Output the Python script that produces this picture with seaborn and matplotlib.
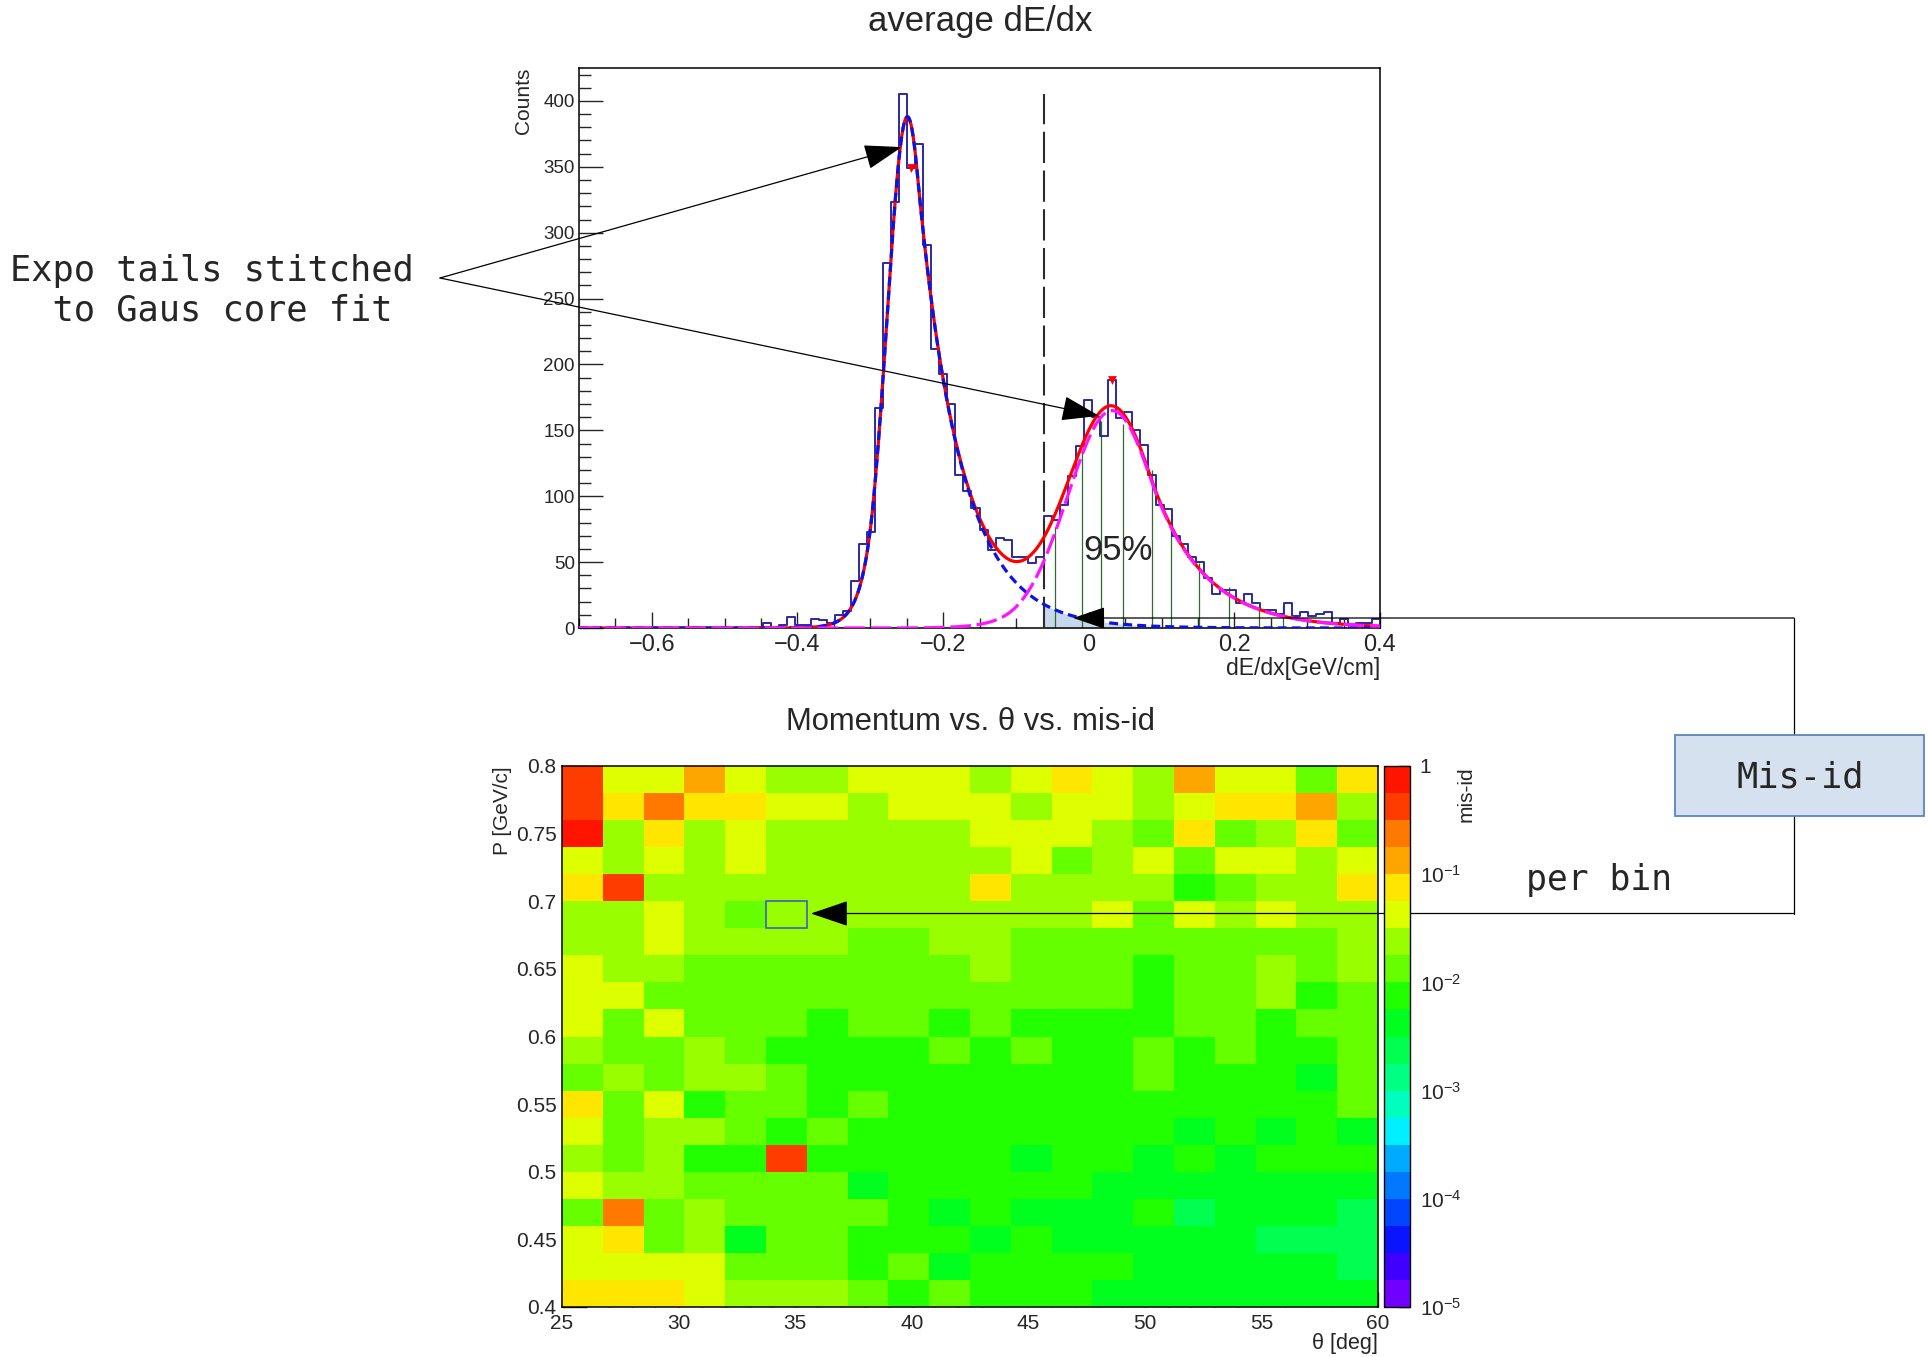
import numpy as np
import pandas as pd
import seaborn as sns
import matplotlib
matplotlib.use("Agg")
import matplotlib.pyplot as plt
from matplotlib.colors import ListedColormap, LogNorm
from matplotlib.patches import Rectangle
from matplotlib.lines import Line2D
from matplotlib.ticker import FixedLocator, MultipleLocator, FuncFormatter, LogLocator, NullFormatter

sns.set_theme(style="white")
plt.rcParams["font.family"] = ["Liberation Sans", "DejaVu Sans"]
plt.rcParams["mathtext.fontset"] = "custom"
plt.rcParams["mathtext.rm"] = "Liberation Sans"
plt.rcParams["mathtext.it"] = "Liberation Sans:italic"
plt.rcParams["axes.unicode_minus"] = True

# ---------------------------------------------------------------- data
# average dE/dx histogram: 100 bins from -0.7 to 0.4
dedx_range = (-0.7, 0.4)
dedx_nbins = 100
dedx_counts = [0] * 22 + [
    1, 4, 0, 2, 8, 2, 2, 7, 6, 4,          # 22-31
    10, 13, 36, 64, 73, 167, 277, 323, 405, 349,   # 32-41
    367, 291, 212, 193, 170, 116, 104, 91, 74, 59,  # 42-51
    68, 67, 54, 54, 49, 54, 85, 82, 93, 115,       # 52-61
    138, 173, 160, 146, 188, 159, 164, 150, 139, 116,  # 62-71
    93, 90, 70, 64, 54, 50, 38, 26, 29, 29,        # 72-81
    19, 26, 19, 14, 14, 11, 19, 9, 12, 9,          # 82-91
    11, 12, 4, 7, 2, 4, 4, 7,                      # 92-99
]

# fit: Gaussian core with exponential tails
pion_fit = dict(amp=388.0, mu=-0.249, sig=0.028, tail_l=60.0, tail_r=17.0)
sig_fit = dict(amp=165.0, mu=0.032, sig=0.061, tail_l=35.0, tail_r=14.0)

cut_x = -0.062
cut_top = 405
marker_x = [-0.2435, 0.0315]
marker_y = [349, 188]
hatch_x = [-0.046, -0.009, 0.017, 0.047, 0.087, 0.113, 0.152, 0.193, 0.234, 0.267]
hatch_top = [77, 135, 157, 155, 120, 77, 49, 31, 15, 17]
pct_label = "95%"

# mis-id map: 20 theta bins (25-60 deg), 20 momentum bins (0.80 at top -> 0.40)
theta_edges = np.linspace(25, 60, 21)
p_edges = np.linspace(0.4, 0.8, 21)
misid = [
    [0.42, 0.042, 0.042, 0.13, 0.042, 0.024, 0.024, 0.042, 0.042, 0.042, 0.024, 0.042, 0.075, 0.042, 0.024, 0.13, 0.042, 0.042, 0.013, 0.075],
    [0.42, 0.075, 0.24, 0.075, 0.075, 0.042, 0.042, 0.024, 0.042, 0.042, 0.042, 0.024, 0.042, 0.042, 0.024, 0.042, 0.075, 0.075, 0.13, 0.024],
    [0.75, 0.024, 0.075, 0.024, 0.042, 0.024, 0.024, 0.024, 0.024, 0.024, 0.042, 0.042, 0.042, 0.024, 0.013, 0.075, 0.013, 0.024, 0.075, 0.013],
    [0.042, 0.024, 0.042, 0.024, 0.042, 0.024, 0.024, 0.024, 0.024, 0.024, 0.024, 0.042, 0.013, 0.024, 0.042, 0.013, 0.042, 0.042, 0.024, 0.042],
    [0.075, 0.42, 0.024, 0.024, 0.024, 0.024, 0.024, 0.024, 0.024, 0.024, 0.075, 0.024, 0.024, 0.024, 0.024, 0.0075, 0.013, 0.024, 0.024, 0.075],
    [0.024, 0.024, 0.042, 0.024, 0.013, 0.024, 0.024, 0.024, 0.024, 0.024, 0.024, 0.024, 0.024, 0.042, 0.013, 0.042, 0.024, 0.042, 0.024, 0.024],
    [0.024, 0.024, 0.042, 0.024, 0.024, 0.024, 0.024, 0.013, 0.013, 0.024, 0.024, 0.013, 0.013, 0.013, 0.013, 0.013, 0.013, 0.013, 0.013, 0.024],
    [0.042, 0.024, 0.024, 0.013, 0.013, 0.013, 0.013, 0.013, 0.013, 0.013, 0.024, 0.013, 0.013, 0.013, 0.0075, 0.013, 0.013, 0.024, 0.013, 0.024],
    [0.042, 0.042, 0.013, 0.013, 0.013, 0.013, 0.013, 0.013, 0.013, 0.013, 0.013, 0.013, 0.013, 0.013, 0.0075, 0.013, 0.013, 0.024, 0.0075, 0.013],
    [0.042, 0.013, 0.042, 0.013, 0.013, 0.013, 0.0075, 0.013, 0.013, 0.0075, 0.013, 0.0075, 0.0075, 0.0075, 0.0075, 0.013, 0.013, 0.0075, 0.013, 0.013],
    [0.024, 0.013, 0.013, 0.024, 0.013, 0.0075, 0.0075, 0.0075, 0.0075, 0.013, 0.0075, 0.013, 0.0075, 0.0075, 0.013, 0.0075, 0.013, 0.0075, 0.0075, 0.013],
    [0.013, 0.024, 0.013, 0.024, 0.024, 0.013, 0.0075, 0.0075, 0.0075, 0.0075, 0.0075, 0.0075, 0.0075, 0.0075, 0.013, 0.0075, 0.0075, 0.0075, 0.0042, 0.013],
    [0.075, 0.013, 0.042, 0.0075, 0.013, 0.013, 0.0075, 0.013, 0.0075, 0.0075, 0.0075, 0.0075, 0.0075, 0.0075, 0.0075, 0.0075, 0.0075, 0.0075, 0.0075, 0.013],
    [0.042, 0.013, 0.024, 0.024, 0.013, 0.0075, 0.013, 0.0075, 0.0075, 0.0075, 0.0075, 0.0075, 0.0075, 0.0075, 0.0075, 0.0042, 0.0075, 0.0042, 0.0075, 0.0042],
    [0.024, 0.013, 0.024, 0.0075, 0.0075, 0.42, 0.0075, 0.0075, 0.0075, 0.0075, 0.0075, 0.0042, 0.0075, 0.0075, 0.0042, 0.0075, 0.0042, 0.0075, 0.0075, 0.0075],
    [0.042, 0.024, 0.024, 0.013, 0.013, 0.013, 0.013, 0.0042, 0.0075, 0.0075, 0.0075, 0.0075, 0.0075, 0.0042, 0.0042, 0.0042, 0.0042, 0.0042, 0.0042, 0.0042],
    [0.013, 0.24, 0.013, 0.024, 0.013, 0.013, 0.013, 0.013, 0.0075, 0.0042, 0.0075, 0.0042, 0.0042, 0.0042, 0.0075, 0.0024, 0.0042, 0.0042, 0.0042, 0.0024],
    [0.042, 0.075, 0.013, 0.024, 0.0042, 0.013, 0.013, 0.0075, 0.0075, 0.0075, 0.0042, 0.0075, 0.0042, 0.0042, 0.0042, 0.0042, 0.0042, 0.0024, 0.0024, 0.0024],
    [0.042, 0.042, 0.042, 0.042, 0.013, 0.013, 0.013, 0.0075, 0.013, 0.0042, 0.0075, 0.0075, 0.0075, 0.0075, 0.0042, 0.0042, 0.0042, 0.0042, 0.0042, 0.0024],
    [0.075, 0.075, 0.075, 0.042, 0.024, 0.024, 0.024, 0.013, 0.0075, 0.013, 0.0075, 0.0075, 0.0075, 0.0042, 0.0042, 0.0042, 0.0042, 0.0042, 0.0042, 0.0042],
]
highlight_cell = (5, 5)          # (theta bin, row from top)
misid_colors = ["#7000ff", "#4000ff", "#0a14ff", "#0046ff", "#0078ff", "#00aaff", "#00f0ff",
                "#00ffbe", "#00ff82", "#00ff50", "#00ff1e", "#22ff00", "#66ff00", "#99ff00",
                "#ddff00", "#ffe600", "#ffa500", "#ff7800", "#ff3c00", "#ff1400"]

# ---------------------------------------------------------------- layout helpers
W, H, DPI = 1928, 1357, 100
fig = plt.figure(figsize=(W / DPI, H / DPI), dpi=DPI, facecolor="white")


def fx(px):
    return px / W


def fy(py):
    return 1 - py / H


def stitched(x, amp, mu, sig, tail_l, tail_r):
    d = x - mu
    core = np.exp(-0.5 * (d / sig) ** 2)
    left = np.exp(0.5 * (tail_l * sig) ** 2 + tail_l * d)
    right = np.exp(0.5 * (tail_r * sig) ** 2 - tail_r * d)
    return amp * np.where(d < -tail_l * sig ** 2, left,
                          np.where(d > tail_r * sig ** 2, right, core))


mono = "DejaVu Sans Mono"

# ---------------------------------------------------------------- top panel
ax1 = fig.add_axes([fx(579), fy(628), (1380 - 579) / W, (628 - 68) / H])
edges = np.linspace(dedx_range[0], dedx_range[1], dedx_nbins + 1)
centers = 0.5 * (edges[:-1] + edges[1:])
hist_df = pd.DataFrame({"dedx": centers, "counts": dedx_counts})
sns.histplot(data=hist_df, x="dedx", weights="counts", bins=dedx_nbins, binrange=dedx_range,
             element="step", fill=False, color="#2a2aa0", linewidth=1.4, ax=ax1, zorder=3)

xs = np.linspace(dedx_range[0], dedx_range[1], 2000)
pion = stitched(xs, **pion_fit)
sig = stitched(xs, **sig_fit)
total = pion + sig

mask = xs >= cut_x
ax1.fill_between(xs[mask], 0, pion[mask], color="#c6d8ec", lw=0, zorder=2)
ax1.vlines(hatch_x, 0, hatch_top, colors="#2f6a2f", lw=0.9, zorder=2.5)
ax1.vlines([cut_x], 0, cut_top, colors="#2b2b2b", lw=1.5, linestyles=[(0, (15, 3.6))], zorder=4)
ax1.plot(xs, total, color="#ff0000", lw=2.3, zorder=5)
ax1.plot(xs, pion, color="#0a14e6", lw=2.3, ls=(0, (2.8, 1.6)), zorder=6)
ax1.plot(xs, sig, color="#ff14ff", lw=2.3, ls=(0, (6.5, 1.8)), zorder=6)
ax1.scatter(marker_x, marker_y, marker="v", s=40, color="#ff0000", zorder=7, linewidths=0)
ax1.text(0.04, 59, pct_label, fontsize=25, ha="center", va="center", zorder=8)

ax1.set_xlim(*dedx_range)
ax1.set_ylim(0, 425)
ax1.set_xlabel("")
ax1.set_ylabel("")
ax1.xaxis.set_major_locator(FixedLocator([-0.6, -0.4, -0.2, 0.0, 0.2, 0.4]))
ax1.xaxis.set_minor_locator(MultipleLocator(0.05))
ax1.xaxis.set_major_formatter(FuncFormatter(lambda v, p: f"{v:g}".replace("-", "\u2212")))
ax1.yaxis.set_major_locator(MultipleLocator(50))
ax1.yaxis.set_minor_locator(MultipleLocator(10))
ax1.tick_params(axis="x", which="major", direction="in", length=11.5, width=1.0, labelsize=17, pad=4,
                bottom=True, top=False)
ax1.tick_params(axis="x", which="minor", direction="in", length=7.5, width=1.0, bottom=True, top=False)
ax1.tick_params(axis="y", which="major", direction="in", length=17, width=1.0, labelsize=13.5, pad=3,
                left=True, right=False)
ax1.tick_params(axis="y", which="minor", direction="in", length=8.5, width=1.0, left=True, right=False)
for s in ax1.spines.values():
    s.set_visible(True)
    s.set_color("black")
    s.set_linewidth(1.1)

fig.text(fx(980), fy(21), "average dE/dx", fontsize=25, ha="center", va="center")
fig.text(fx(524), fy(68), "Counts", fontsize=15, rotation=90, ha="center", va="top")
fig.text(fx(1380), fy(668), "dE/dx[GeV/cm]", fontsize=16.5, ha="right", va="center")

# ---------------------------------------------------------------- bottom panel
ax2 = fig.add_axes([fx(562), fy(1307), (1378 - 562) / W, (1307 - 766) / H])
cax = fig.add_axes([fx(1384), fy(1307), (1410 - 1384) / W, (1307 - 766) / H])
theta_lbl = [f"{t:.2f}" for t in theta_edges[:-1]]
p_lbl = [f"{p:.2f}" for p in p_edges[::-1][:-1]]
misid_df = pd.DataFrame(misid, index=p_lbl, columns=theta_lbl)
cmap = ListedColormap(misid_colors)
sns.heatmap(misid_df, ax=ax2, cbar_ax=cax, cmap=cmap, norm=LogNorm(vmin=1e-5, vmax=1),
            xticklabels=False, yticklabels=False, linewidths=0)

th_w = theta_edges[1] - theta_edges[0]
p_h = p_edges[1] - p_edges[0]
th_major = [25, 30, 35, 40, 45, 50, 55, 60]
th_minor = list(range(25, 61))
p_major = [0.4, 0.45, 0.5, 0.55, 0.6, 0.65, 0.7, 0.75, 0.8]
p_minor = [0.4 + 0.01 * i for i in range(41)]
ax2.set_xticks([(t - 25) / th_w for t in th_major])
ax2.set_xticklabels([str(t) for t in th_major])
ax2.set_xticks([(t - 25) / th_w for t in th_minor], minor=True)
ax2.set_yticks([(0.8 - p) / p_h for p in p_major])
ax2.set_yticklabels([f"{p:g}" for p in p_major])
ax2.set_yticks([(0.8 - p) / p_h for p in p_minor], minor=True)
ax2.tick_params(axis="x", which="major", direction="in", length=10.8, width=1.0, labelsize=15, pad=5,
                bottom=True, top=False, labelrotation=0)
ax2.tick_params(axis="x", which="minor", direction="in", length=5, width=1.0, bottom=True, top=False)
ax2.tick_params(axis="y", which="major", direction="in", length=18, width=1.0, labelsize=15, pad=4,
                left=True, right=False, labelrotation=0)
ax2.tick_params(axis="y", which="minor", direction="in", length=9.4, width=1.0, left=True, right=False)
ax2.set_xlabel("")
ax2.set_ylabel("")
for s in ax2.spines.values():
    s.set_visible(True)
    s.set_color("black")
    s.set_linewidth(1.1)

hc, hr = highlight_cell
ax2.add_patch(Rectangle((hc, hr), 1, 1, fill=False, edgecolor="#3d5fc8", lw=1.2, zorder=5))

cbar = ax2.collections[0].colorbar
cbar.set_ticks([1e-5, 1e-4, 1e-3, 1e-2, 1e-1, 1])
cbar.set_ticklabels([r"$10^{-5}$", r"$10^{-4}$", r"$10^{-3}$", r"$10^{-2}$", r"$10^{-1}$", "1"])
cbar.ax.yaxis.set_minor_locator(LogLocator(base=10, subs=np.arange(2, 10)))
cbar.ax.yaxis.set_minor_formatter(NullFormatter())
cbar.ax.tick_params(which="major", direction="in", length=9, width=1.0, labelsize=15, pad=7,
                    right=True, left=False)
cbar.ax.tick_params(which="minor", direction="in", length=5, width=0.9, right=True, left=False)
cbar.outline.set_visible(True)
cbar.outline.set_edgecolor("black")
cbar.outline.set_linewidth(1.0)

fig.text(fx(970), fy(722), "Momentum vs. \u03b8 vs. mis-id", fontsize=22.3, ha="center", va="center")
fig.text(fx(502), fy(766), "P [GeV/c]", fontsize=15, rotation=90, ha="center", va="top")
fig.text(fx(1378), fy(1344), "\u03b8 [deg]", fontsize=15.5, ha="right", va="center")
fig.text(fx(1466), fy(766), "mis-id", fontsize=15, rotation=90, ha="center", va="top")

# ---------------------------------------------------------------- annotations
fig.text(fx(10), fy(290.5), "Expo tails stitched\n  to Gaus core fit", family=mono,
         fontsize=25.5, ha="left", va="center", linespacing=1.2)
src = (fx(440), fy(278))
for tip in [(-0.2567, 365), (0.0143, 161)]:
    ax1.annotate("", xy=tip, xycoords="data", xytext=src, textcoords="figure fraction",
                 arrowprops=dict(arrowstyle="-|>,head_length=1.0,head_width=0.33", mutation_scale=24,
                                 lw=0.9, color="black", shrinkA=0, shrinkB=0),
                 annotation_clip=False, zorder=10)

corner_x = fx(1794)
top_y = fy(618)
bot_y = fy(913.5)
ax1.annotate("", xy=(-0.0214, top_y), xycoords=("data", "figure fraction"),
             xytext=(corner_x, top_y), textcoords="figure fraction",
             arrowprops=dict(arrowstyle="-|>,head_length=0.85,head_width=0.29", mutation_scale=24,
                             lw=0.9, color="black", shrinkA=0, shrinkB=0),
             annotation_clip=False, zorder=10)
ax2.annotate("", xy=(6.1, bot_y), xycoords=("data", "figure fraction"),
             xytext=(corner_x, bot_y), textcoords="figure fraction",
             arrowprops=dict(arrowstyle="-|>,head_length=1.0,head_width=0.34", mutation_scale=24,
                             lw=0.9, color="black", shrinkA=0, shrinkB=0),
             annotation_clip=False, zorder=10)
fig.add_artist(Line2D([corner_x, corner_x], [top_y, bot_y], transform=fig.transFigure,
                      color="black", lw=0.9, zorder=3))
fig.add_artist(Rectangle((fx(1675), fy(816)), (1924 - 1675) / W, (816 - 735) / H,
                         transform=fig.transFigure, facecolor="#d5e1ef", edgecolor="#5b86c0",
                         lw=1.3, zorder=5))
fig.text(fx(1800), fy(777), "Mis-id", family=mono, fontsize=25.5, ha="center", va="center", zorder=6)
fig.text(fx(1526), fy(880), "per bin", family=mono, fontsize=25, ha="left", va="center")

fig.savefig("out.png", dpi=DPI, facecolor="white")
